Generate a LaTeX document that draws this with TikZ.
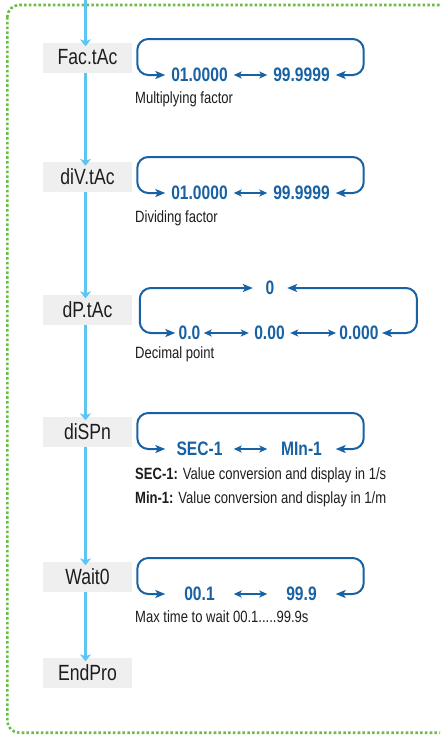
\documentclass[tikz,border=0pt]{standalone}
\usepackage{fontspec}
\setmainfont[FakeStretch=0.8]{Liberation Sans}
\usepackage{tikz}
\usetikzlibrary{arrows.meta,positioning}
\definecolor{flowblue}{RGB}{92,197,242}
\definecolor{loopblue}{RGB}{24,98,163}
\definecolor{framegreen}{RGB}{108,189,69}
\definecolor{boxgray}{RGB}{239,239,239}
\definecolor{txtgray}{RGB}{30,28,28}
\tikzset{%
    menu/.style={%
        fill=boxgray, text=txtgray, minimum width=89pt, minimum height=30pt,
        inner sep=0pt, font=\fontsize{22}{26}\selectfont
    },
    val/.style={%
        text=loopblue, inner sep=0pt, minimum width=68pt,
        font=\fontsize{19.5}{23}\selectfont\bfseries
    },
    note/.style={%
        anchor=base west, inner sep=0pt, text=txtgray,
        font=\fontsize{16.3}{19}\selectfont
    },
    flow/.style={%
        draw=flowblue, line width=3.3pt, shorten >=-4pt,
        -{Stealth[length=7pt,width=11pt,inset=2pt]}
    },
    toggle/.style={%
        draw=loopblue, line width=2pt, rounded corners=11pt,
        {Stealth[length=10pt,width=8pt,inset=2.5pt]}-{Stealth[length=10pt,width=8pt,inset=2.5pt]}
    },
    pair/.style={%
        draw=loopblue, line width=2pt,
        {Stealth[length=8pt,width=7pt,inset=2pt]}-{Stealth[length=8pt,width=7pt,inset=2pt]}
    },
    frame/.style={%
        draw=framegreen, line width=2.6pt, dash pattern=on 2.6pt off 2.2pt,
        rounded corners=12pt
    }
}

\begin{document}
\begin{tikzpicture}[x=1pt, y=-1pt]
    \useasboundingbox (0,0) rectangle (440,736);
    \clip (0,0) rectangle (440,736);
    \draw[frame] (7.3,5) rectangle (460,732.7);

    \node[menu] (fac) at (87.5,57.5) {Fac.tAc};
    \node[menu] (div) at (87.5,177) {diV.tAc};
    \node[menu] (dp) at (87.5,309.5) {dP.tAc};
    \node[menu] (disp) at (87.5,431.5) {diSPn};
    \node[menu] (wait) at (87.5,576.5) {Wait0};
    \node[menu] (endpro) at (87.5,672.5) {EndPro};

    \coordinate (top) at (85.5,0);
    \draw[flow] (top) -- ([xshift=-2pt]fac.north);
    \foreach \a/\b in {fac/div, div/dp, dp/disp, disp/wait, wait/endpro}
        \draw[flow] ([xshift=-2pt]\a.south) -- ([xshift=-2pt]\b.north);

    \node[val] (f1) at (199.5,75) {01.0000};
    \node[val] (f2) at (301.5,75) {99.9999};
    \node[note] (fn) at (135,103.5) {Multiplying factor};

    \node[val] (v1) at (199.5,193) {01.0000};
    \node[val] (v2) at (301.5,193) {99.9999};
    \node[note] (vn) at (135,222.5) {Dividing factor};

    \node[val, minimum width=34pt] (z) at (270,288) {0};
    \node[val, minimum width=28pt] (d1) at (189.5,333) {0.0};
    \node[val, minimum width=41pt] (d2) at (269.5,333) {0.00};
    \node[val, minimum width=45.5pt] (d3) at (359,333) {0.000};
    \node[note] (dn) at (135,358.3) {Decimal point};

    \node[val] (s1) at (199.5,449) {SEC-1};
    \node[val] (s2) at (301.5,449) {MIn-1};
    \node[note] (sn1) at (135,479.3) {\textbf{SEC-1:} Value conversion and display in 1/s};
    \node[note] (sn2) at (135,503.3) {\textbf{Min-1:} Value conversion and display in 1/m};

    \node[val] (w1) at (199.5,594) {00.1};
    \node[val] (w2) at (301.5,594) {99.9};
    \node[note] (wn) at (135,622.7) {Max time to wait 00.1.....99.9s};

    \foreach \a/\b in {f1/f2, v1/v2, s1/s2, w1/w2} {
        \draw[toggle] (\a.west) -| ([xshift=-28pt,yshift=36pt]\a.west)
            -| ([xshift=28pt]\b.east) -- (\b.east);
        \draw[pair] (\a.east) -- (\b.west);
    }
    \draw[toggle] (z.west) -| ([xshift=-35.5pt]d1.west) -- (d1.west);
    \draw[toggle] (z.east) -| ([xshift=35pt]d3.east) -- (d3.east);
    \draw[pair] (d1.east) -- (d2.west);
    \draw[pair] (d2.east) -- (d3.west);
\end{tikzpicture}
\end{document}
